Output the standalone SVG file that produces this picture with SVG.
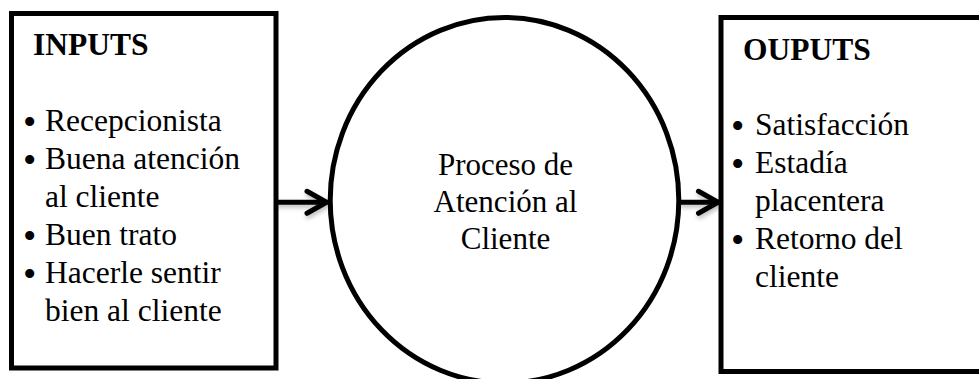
<svg xmlns="http://www.w3.org/2000/svg" width="979" height="379" viewBox="0 0 979 379">
<style>
.box{fill:#fff;stroke:#000;stroke-width:5;stroke-linejoin:miter}
.proc{fill:#fff;stroke:#000;stroke-width:5}
text{font-family:"Liberation Serif","Times New Roman",serif;fill:#000}
.hd{font-size:31.5px;font-weight:bold}
.tx{font-size:31.5px}
.ct{font-size:31px;text-anchor:middle}
.bl{font-size:38px}
.con{stroke:#000;stroke-width:5;fill:none;stroke-linecap:round}
</style>
<defs>
<filter id="sh" filterUnits="userSpaceOnUse" x="0" y="150" width="979" height="100">
<feDropShadow dx="1" dy="3" stdDeviation="2" flood-color="#000" flood-opacity="0.25"/>
</filter>
<marker id="chev" markerUnits="userSpaceOnUse" markerWidth="30" markerHeight="30" viewBox="-25 -15 30 30" refX="0" refY="0" orient="auto">
<path d="M-19.5,-11 L0,0 L-19.5,11" fill="none" stroke="#000" stroke-width="5" stroke-linecap="round" stroke-linejoin="round"/>
</marker>
</defs>

<g id="inputs">
<rect class="box" x="11.5" y="13.5" width="264.5" height="354.5"/>
<text class="hd" x="33" y="55">INPUTS</text>
<text class="tx" y="130.5"><tspan class="bl" x="23" dy="4">•</tspan><tspan x="45" dy="-4">Recepcionista</tspan></text>
<text class="tx" y="168.5"><tspan class="bl" x="23" dy="4">•</tspan><tspan x="45" dy="-4">Buena atención</tspan></text>
<text class="tx" x="45" y="206.5">al cliente</text>
<text class="tx" y="244.5"><tspan class="bl" x="23" dy="4">•</tspan><tspan x="45" dy="-4">Buen trato</tspan></text>
<text class="tx" y="282.5"><tspan class="bl" x="23" dy="4">•</tspan><tspan x="45" dy="-4">Hacerle sentir</tspan></text>
<text class="tx" x="45" y="320.5">bien al cliente</text>
</g>

<g id="proceso">
<ellipse class="proc" cx="504.5" cy="200.3" rx="174.3" ry="182.8"/>
<text class="ct" x="505.5" y="174.5">Proceso de</text>
<text class="ct" x="505.5" y="211.5">Atención al</text>
<text class="ct" x="505.5" y="248.5">Cliente</text>
</g>

<g id="outputs">
<rect class="box" x="721" y="17.5" width="300" height="354"/>
<text class="hd" x="743" y="60">OUPUTS</text>
<text class="tx" y="135"><tspan class="bl" x="731" dy="4">•</tspan><tspan x="755" dy="-4">Satisfacción</tspan></text>
<text class="tx" y="173"><tspan class="bl" x="731" dy="4">•</tspan><tspan x="755" dy="-4">Estadía</tspan></text>
<text class="tx" x="755" y="211">placentera</text>
<text class="tx" y="249"><tspan class="bl" x="731" dy="4">•</tspan><tspan x="755" dy="-4">Retorno del</tspan></text>
<text class="tx" x="755" y="287">cliente</text>
</g>

<g id="connectors" filter="url(#sh)">
<line class="con" x1="278" y1="202.3" x2="326.5" y2="202.3" marker-end="url(#chev)"/>
<line class="con" x1="681" y1="202.3" x2="718" y2="202.3" marker-end="url(#chev)"/>
</g>
</svg>
